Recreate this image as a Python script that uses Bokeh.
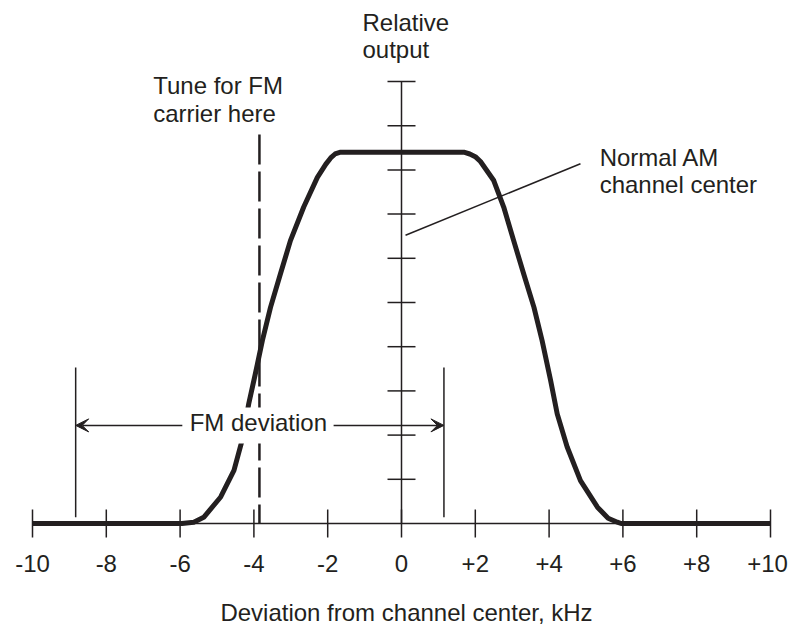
from bokeh.plotting import figure
from bokeh.models import Range1d, Arrow, VeeHead
from bokeh.core.properties import value
from bokeh.embed import file_html
from bokeh.resources import INLINE

# ---------------- data ----------------
# response curve: relative output vs deviation from channel center (kHz)
resp_x = [-10.0, -5.95, -5.63, -5.36, -4.90, -4.54, -4.32, -4.14, -3.96, -3.77,
          -3.55, -3.28, -3.01, -2.65, -2.28, -2.05, -1.92, -1.80, -1.65,
          1.69, 1.85, 2.00, 2.14, 2.50, 2.77, 3.04, 3.31, 3.59, 3.81, 4.04, 4.22, 4.49,
          4.85, 5.31, 5.60, 5.85, 5.95, 10.0]
resp_y = [0.0, 0.0, 0.03, 0.14, 0.60, 1.20, 1.88, 2.71, 3.39, 4.14,
          4.89, 5.65, 6.40, 7.16, 7.83, 8.13, 8.27, 8.36, 8.40,
          8.40, 8.36, 8.30, 8.19, 7.76, 7.16, 6.40, 5.65, 4.89, 4.14, 3.24, 2.48, 1.73,
          0.97, 0.37, 0.12, 0.03, 0.0, 0.0]

x_ticks = [-10, -8, -6, -4, -2, 0, 2, 4, 6, 8, 10]
x_tick_labels = ["-10", "-8", "-6", "-4", "-2", "0", "+2", "+4", "+6", "+8", "+10"]
y_ticks = [1, 2, 3, 4, 5, 6, 7, 8, 9, 10]

tune_x = -3.85          # "Tune for FM carrier here"
tune_top = 8.8
fm_dev_edges = [-8.83, 1.15]   # FM deviation limits
fm_dev_marker_y = [0.14, 3.53]
fm_dev_arrow_y = 2.22
fm_text_gap = [-5.94, -1.84]
am_pointer_x = [0.11, 4.85]
am_pointer_y = [6.52, 8.14]

x_label = "Deviation from channel center, kHz"
y_label = ["Relative", "output"]
tune_label = ["Tune for FM", "carrier here"]
am_label = ["Normal AM", "channel center"]
fm_label = "FM deviation"

# ---------------- layout ----------------
W, H = 789, 627
PXX, PXY = 36.9, 44.2
x_start = -401 / PXX
x_end = x_start + W / PXX
y_end = 523 / PXY
y_start = y_end - H / PXY
TXT_SHIFT = 10 / PXY   # renderer places alphabetic baseline ~10px low

INK = "#231f20"
FONT = value("Liberation Sans")
FS = "24px"

p = figure(width=W, height=H, x_range=Range1d(x_start, x_end),
           y_range=Range1d(y_start, y_end), output_backend="svg",
           toolbar_location=None, x_axis_type=None, y_axis_type=None,
           min_border=0, min_border_left=0, min_border_right=0,
           min_border_top=0, min_border_bottom=0)
p.grid.visible = False
p.outline_line_color = None
p.background_fill_color = "white"
p.border_fill_color = "white"

# axes
p.line([x_ticks[0], x_ticks[-1]], [0, 0], line_color=INK, line_width=1.5)
p.line([0, 0], [0, y_ticks[-1]], line_color=INK, line_width=1.5)
tx = 14 / PXY
p.segment(x0=x_ticks, x1=x_ticks, y0=[-tx] * len(x_ticks), y1=[tx] * len(x_ticks),
          line_color=INK, line_width=1.5)
ty = 14 / PXX
p.segment(x0=[-ty] * len(y_ticks), x1=[ty] * len(y_ticks), y0=y_ticks, y1=y_ticks,
          line_color=INK, line_width=1.5)

# response curve
p.line(resp_x, resp_y, line_color=INK, line_width=5, line_join="round")

# tune marker (dashed)
p.line([tune_x, tune_x], [tune_top, 0], line_color=INK, line_width=2.5, line_dash="30 7")

# FM deviation markers
p.segment(x0=fm_dev_edges, x1=fm_dev_edges,
          y0=[fm_dev_marker_y[0]] * 2, y1=[fm_dev_marker_y[1]] * 2,
          line_color=INK, line_width=1.5)
for xs, xe in [(fm_text_gap[0], fm_dev_edges[0]), (fm_text_gap[1], fm_dev_edges[1])]:
    p.add_layout(Arrow(end=VeeHead(size=13, line_color=INK, fill_color=INK, line_width=1),
                       x_start=xs, y_start=fm_dev_arrow_y, x_end=xe, y_end=fm_dev_arrow_y,
                       line_color=INK, line_width=1.5))

# white knock-out behind the "FM deviation" label
pad_y = 18 / PXY
p.quad(left=[fm_text_gap[0]], right=[fm_text_gap[1]],
       bottom=[fm_dev_arrow_y - pad_y], top=[fm_dev_arrow_y + pad_y],
       fill_color="white", line_color=None)

# AM pointer
p.line(am_pointer_x, am_pointer_y, line_color=INK, line_width=1.5)

# tick labels
offs = [0] * (len(x_ticks) - 1) + [-3]
p.text(x=x_ticks, y=[-1.13 + TXT_SHIFT] * len(x_ticks), text=x_tick_labels,
       x_offset=offs, text_align="center", text_baseline="alphabetic", text_font=FONT,
       text_font_size=FS, text_color=INK)

def lbl(x, y, t, align="left"):
    p.text(x=[x], y=[y + TXT_SHIFT], text=[t], text_align=align,
           text_baseline="alphabetic", text_font=FONT, text_font_size=FS,
           text_color=INK)

lbl(0.135, -2.23, x_label, "center")
lbl(-1.057, 11.10, y_label[0])
lbl(-1.057, 10.49, y_label[1])
lbl(-6.73, 9.68, tune_label[0])
lbl(-6.73, 9.04, tune_label[1])
lbl(5.37, 8.06, am_label[0])
lbl(5.37, 7.44, am_label[1])
lbl(-3.88, 2.07, fm_label, "center")

open("out.html", "w").write(file_html(p, INLINE))
